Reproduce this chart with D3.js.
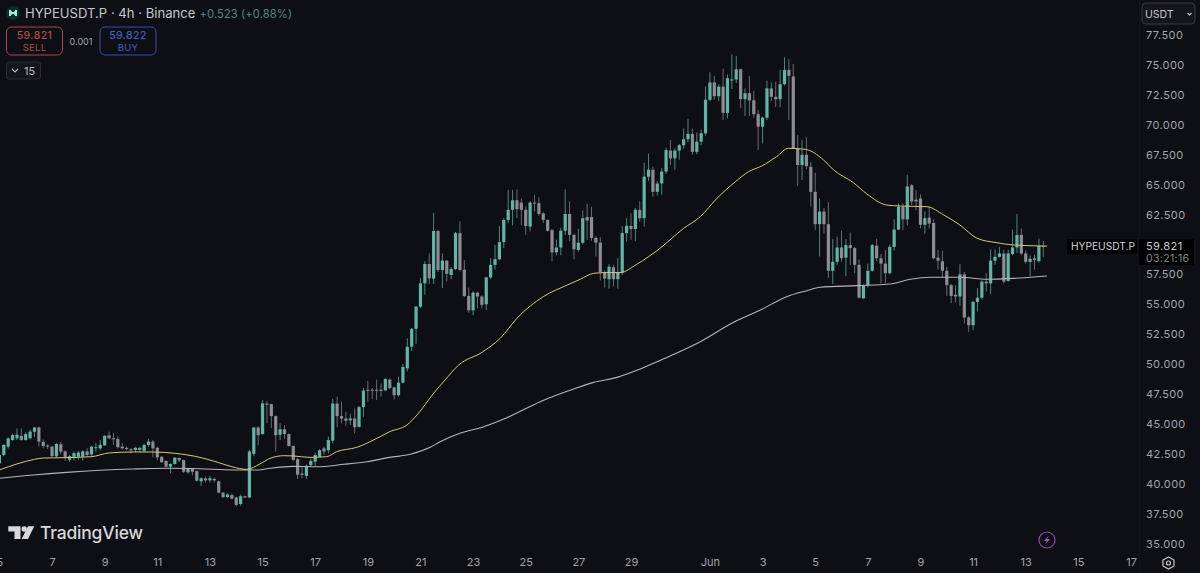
<!DOCTYPE html>
<html>
<head>
<meta charset="utf-8">
<script src="https://cdn.jsdelivr.net/npm/d3@7"></script>
<style>
  html, body { margin: 0; padding: 0; background: #0e0f14; overflow: hidden; }
  svg { display: block; font-family: Inter, "Noto Sans", sans-serif; }
</style>
</head>
<body>
<script>
// 4h candles, first one is 5 May 00:00
var opens = [41.7,42.4,43.1,43.65,43.8,44.0,43.65,43.8,44.35,44.7,
  43.5,43.2,43.1,42.3,43.3,42.7,42.0,42.25,42.26,42.26,
  42.7,42.45,43.0,42.95,43.2,44.05,43.8,43.75,43.1,43.0,
  42.88,42.82,43.0,42.75,43.24,43.52,43.0,42.25,41.9,41.42,
  41.65,42.15,41.98,40.95,41.25,41.05,40.2,40.45,40.28,40.4,
  40.2,39.25,38.88,39.05,38.85,38.3,38.95,38.85,42.5,44.7,
  44.15,46.7,46.65,45.65,44.1,44.55,44.15,43.15,42.05,40.85,
  40.65,41.55,41.85,42.25,42.95,42.8,43.6,46.7,45.65,45.45,
  45.3,45.45,44.75,46.4,47.85,47.85,47.85,47.85,47.8,48.7,
  48.05,47.4,48.45,49.65,51.45,52.95,54.8,56.75,58.37,57.15,
  61.13,57.87,58.65,57.45,57.95,60.95,57.9,55.7,54.5,55.97,
  55.65,55.0,57.25,58.3,58.77,60.2,62.05,62.9,63.7,63.5,
  62.9,61.5,63.5,63.45,62.6,62.05,61.2,59.35,59.75,61.15,
  62.55,60.8,59.55,60.15,62.3,62.3,60.55,60.15,57.7,57.1,
  58.1,57.1,57.65,60.95,61.55,61.3,62.9,62.2,65.67,66.25,
  64.4,65.1,66.1,67.85,67.2,67.85,68.3,68.8,69.25,67.75,
  68.6,69.3,72.1,73.55,72.4,73.2,71.0,73.75,73.8,74.65,
  72.15,72.65,72.05,70.9,69.85,70.6,73.05,72.35,72.15,73.4,
  74.6,74.05,68.05,66.65,67.5,66.5,64.4,61.7,62.75,61.7,
  57.8,58.55,59.75,58.9,59.95,59.7,58.3,55.5,56.6,57.8,
  59.9,58.85,58.4,57.6,59.8,61.25,63.15,62.1,64.95,63.75,
  63.85,61.65,62.25,61.8,58.9,58.6,57.8,56.6,55.8,55.65,
  57.5,53.9,53.25,55.2,55.55,56.9,56.75,58.65,58.97,59.25,
  56.95,59.2,59.75,60.8,59.25,58.55,58.85,58.6,59.88];
var closes = [42.4,43.24,43.79,44.07,44.1,43.65,44.15,44.35,44.7,43.52,
  43.15,43.1,42.3,43.32,42.68,42.2,42.3,42.55,42.6,42.7,
  42.4,43.1,43.05,43.25,44.0,43.8,43.72,43.05,42.97,42.9,
  42.78,43.0,42.82,43.24,43.52,42.96,42.2,41.8,41.42,41.65,
  42.18,41.95,41.0,41.25,41.0,40.25,40.45,40.28,40.45,40.28,
  39.25,38.88,39.1,38.75,38.22,38.95,38.85,42.7,44.7,44.05,
  46.72,46.6,45.65,44.05,44.55,44.15,43.15,42.0,40.75,40.75,
  41.5,41.9,42.4,42.8,42.7,43.65,46.7,45.65,45.45,45.27,
  45.45,44.72,46.4,47.78,47.8,47.8,47.8,47.75,48.75,48.0,
  47.4,48.45,49.75,51.45,52.95,54.8,56.75,58.37,57.17,61.13,
  57.87,58.65,57.55,57.95,60.95,57.87,55.7,54.5,55.97,55.65,
  54.95,57.25,58.3,58.77,60.2,62.05,62.9,63.7,62.95,62.9,
  61.55,63.5,63.45,62.55,62.05,61.15,59.35,59.75,61.15,62.55,
  60.8,59.6,60.15,62.2,62.0,60.55,60.15,57.7,57.15,58.15,
  57.1,57.65,60.95,61.55,61.3,62.9,62.2,65.67,66.25,64.4,
  65.1,66.1,67.9,67.2,67.85,68.3,68.8,69.25,67.75,68.6,
  69.3,72.1,73.55,72.4,73.2,71.0,73.9,73.8,74.65,72.15,
  72.65,72.05,70.9,69.85,70.6,73.05,72.35,72.15,73.4,74.6,
  74.1,68.05,66.65,67.5,66.55,64.4,61.7,62.75,61.7,57.8,
  58.55,59.75,58.85,59.95,59.7,58.3,55.55,56.6,57.8,59.95,
  58.85,58.4,57.6,59.8,61.25,63.15,62.1,64.85,63.6,63.6,
  61.65,62.2,61.75,58.85,58.65,57.8,56.6,55.7,55.65,57.5,
  53.9,53.25,55.2,55.55,56.9,56.75,58.65,58.97,59.25,56.9,
  59.25,59.75,60.8,59.25,58.55,58.8,58.7,59.87,59.82];
var highs = [42.5,43.3,43.85,44.2,44.63,44.63,44.3,44.5,44.75,44.77,
  43.7,43.3,43.15,43.4,43.5,42.8,42.4,42.7,42.75,42.8,
  42.95,43.15,43.4,43.65,44.05,44.35,44.25,43.95,43.4,43.1,
  42.97,43.1,43.1,43.35,43.75,43.65,43.1,42.3,41.95,41.7,
  42.2,42.2,42.0,41.3,41.3,41.1,40.55,40.6,40.65,40.5,
  40.25,39.3,39.2,39.15,38.9,39.1,39.0,42.85,44.75,44.8,
  47.0,46.9,46.7,45.7,45.05,44.9,44.2,43.2,42.15,41.4,
  41.6,42.1,42.6,42.9,43.1,43.95,47.1,47.28,46.85,46.0,
  45.85,46.3,46.5,48.0,48.6,48.0,48.7,48.4,48.85,48.8,
  48.1,48.95,50.0,52.15,53.0,54.85,57.2,58.6,59.25,62.65,
  61.2,59.25,58.7,58.1,61.05,61.95,58.7,56.4,56.1,56.05,
  55.75,57.3,58.85,59.95,61.55,62.2,64.56,64.55,64.6,63.85,
  63.2,63.6,64.15,63.95,62.7,62.1,61.3,60.4,61.4,64.6,
  63.6,60.9,61.3,62.85,63.4,63.15,60.7,60.6,57.85,58.35,
  58.3,58.85,61.55,62.2,62.6,63.05,63.6,66.85,67.6,66.5,
  65.3,66.4,68.1,68.75,68.05,68.4,69.7,70.5,69.7,69.35,
  69.6,73.2,74.4,74.1,73.4,74.7,74.2,75.9,75.75,74.7,
  73.05,74.1,72.85,71.25,70.7,73.7,73.55,73.6,74.6,75.65,
  75.5,75.1,69.15,68.75,68.95,66.9,66.0,63.85,63.05,63.55,
  60.45,60.65,61.15,60.45,61.0,59.8,58.75,56.65,58.4,60.05,
  60.45,59.2,59.55,60.0,62.1,63.45,63.45,65.8,65.05,64.55,
  64.2,62.75,63.15,62.1,59.55,59.5,58.15,56.7,56.6,58.35,
  57.7,54.0,55.3,56.35,57.0,57.6,59.6,59.6,59.8,59.55,
  59.55,61.25,62.55,61.35,59.5,59.1,59.15,60.5,60.3];
var lows = [41.6,42.3,42.95,43.6,43.65,43.6,43.6,43.7,43.9,43.1,
  42.95,42.9,42.25,42.2,42.5,41.9,41.85,41.95,42.0,41.95,
  42.25,42.2,42.65,42.8,43.2,43.75,43.25,42.95,42.85,42.8,
  42.55,42.65,42.65,42.65,43.1,42.2,41.98,41.75,41.38,40.87,
  41.6,41.8,40.9,40.85,40.7,40.2,39.82,40.1,40.1,40.1,
  39.2,38.8,38.8,38.7,38.1,38.15,38.8,38.8,42.3,43.2,
  44.1,45.05,44.65,42.7,43.65,43.75,43.1,41.9,40.4,40.45,
  40.4,41.4,41.45,42.2,42.4,42.55,43.4,44.75,45.05,44.85,
  44.9,44.2,44.7,45.6,46.85,47.1,47.0,47.3,47.75,47.9,
  47.05,47.3,48.4,49.4,51.1,51.7,54.7,55.8,56.7,56.7,
  57.7,56.35,56.9,57.1,57.85,57.75,55.6,54.3,54.1,54.65,
  54.65,54.5,57.1,57.9,58.7,59.7,61.8,61.6,62.2,61.6,
  60.8,61.1,62.75,62.4,61.8,61.1,58.6,59.1,59.1,60.8,
  60.3,58.75,59.4,60.0,60.4,60.3,59.0,57.0,56.4,56.3,
  56.5,56.3,57.45,60.25,60.4,60.3,61.9,61.5,65.3,64.0,
  64.1,64.15,65.9,66.65,66.25,67.1,68.0,68.55,67.5,67.55,
  68.3,69.1,72.0,72.1,72.0,70.4,70.55,73.0,73.5,71.4,
  70.75,70.75,70.6,67.9,68.45,70.4,72.0,71.5,71.5,73.3,
  70.4,68.0,64.9,65.4,66.3,63.2,61.2,59.0,60.9,57.2,
  56.7,58.3,58.55,57.35,58.3,57.6,55.5,55.45,56.4,57.75,
  58.6,56.75,56.8,57.5,59.5,61.2,61.2,61.6,63.3,62.85,
  61.35,60.9,61.35,58.75,57.9,57.2,55.7,55.1,55.15,54.85,
  53.4,52.7,52.85,54.4,55.4,56.05,55.85,58.3,58.9,56.75,
  56.9,59.1,59.3,59.1,58.4,57.35,57.9,58.5,58.95];

var yellowAt = [0,4,8,10,15,21,25,30.5,35,40,46,50,53,56.4,59.4,61.7,64.8,67,70.8,74.6,76.9,81.5,85.3,89,92.9,95.2,99,101.6,104.7,110,114.2,118,124,129.4,132.4,135.5,138.5,141.5,145.3,150.6,156,159.8,163.6,167.8,170.8,173.8,177.2,179.9,183.7,187.9,190.2,194.7,197.8,202.3,205.4,211.5,215.3,219,222.9,227.4,231.2,238.8];
var yellowMa = [41.15,41.65,42.04,42.15,42.18,42.26,42.57,42.65,42.65,42.54,42.18,41.76,41.42,41.2,41.65,42.12,42.34,42.32,42.2,42.26,42.68,43.04,43.65,44.35,44.91,45.74,47.56,48.67,49.92,50.98,52.16,53.83,55.64,56.6,57.09,57.59,57.65,57.65,58.34,59.68,61.35,62.33,63.86,65.25,66.09,66.56,67.35,68.04,67.96,67.07,66.23,65.17,64.22,63.3,63.22,63.16,62.47,61.63,60.52,60.15,59.96,59.87];
var whiteAt = [0,7.7,15.3,22.9,30.5,38.1,45.7,53.3,59,61.7,67,72.4,78.5,83.8,89,93.7,98.2,100.5,105,110.4,115.7,123.3,130.9,135.5,140.8,146.1,152.2,159.8,167.4,173.5,179.5,184.1,187.1,195.5,203.1,207.7,212.2,219,225.2,231.2,238.8];
var whiteMa = [40.45,40.73,40.95,41.12,41.23,41.29,41.25,41.15,41.15,41.29,41.45,41.42,41.62,41.84,42.2,42.46,43.04,43.51,44.21,44.77,45.52,46.86,47.92,48.47,48.89,49.59,50.56,51.87,53.49,54.52,55.64,56.14,56.42,56.56,56.7,57.09,57.26,57.26,57.1,57.17,57.37];

// 60.000 sits under the last price label in the picture
var priceTicks = [35,37.5,40,42.5,45,47.5,50,52.5,55,57.5,62.5,65,67.5,70,72.5,75,77.5];
var dayTicks = ["2025-05-05","2025-05-07","2025-05-09","2025-05-11","2025-05-13","2025-05-15","2025-05-17","2025-05-19","2025-05-21","2025-05-23","2025-05-25","2025-05-27","2025-05-29","2025-06-01","2025-06-03","2025-06-05","2025-06-07","2025-06-09","2025-06-11","2025-06-13","2025-06-15","2025-06-17"];

var width = 1200, height = 573;
var t0 = Date.UTC(2025, 4, 5);
function when(i) { return new Date(t0 + i * 4 * 3600 * 1000); }

var x = d3.scaleUtc()
    .domain([new Date("2025-05-05"), new Date("2025-06-17")])
    .range([-0.6, 1131]);
var y = d3.scaleLinear()
    .domain([35, 77.5])
    .range([543.5, 35.2]);

var svg = d3.select("body").append("svg")
    .attr("width", width)
    .attr("height", height);

svg.append("rect").attr("width", width).attr("height", height).attr("fill", "#0e0f14");
svg.append("line").attr("x1", 1139.5).attr("x2", 1139.5).attr("y1", 0).attr("y2", height).attr("stroke", "#14151a");

// the reference is a soft screenshot, take the edge off the marks
svg.append("defs").append("filter").attr("id", "soft")
    .attr("x", "-5%").attr("y", "-5%").attr("width", "110%").attr("height", "110%")
  .append("feGaussianBlur").attr("stdDeviation", 0.35);

// candles
var green = "#5fb6a7", gray = "#8d8b95";
var candles = d3.range(opens.length).map(function(i) {
  return {t: when(i), o: opens[i], c: closes[i], h: highs[i], l: lows[i]};
});
function candleColor(d) { return d.c >= d.o ? green : gray; }

var marks = svg.append("g").attr("filter", "url(#soft)");

marks.append("g").selectAll("line")
    .data(candles)
  .enter().append("line")
    .attr("x1", function(d) { return x(d.t); })
    .attr("x2", function(d) { return x(d.t); })
    .attr("y1", function(d) { return y(d.h); })
    .attr("y2", function(d) { return y(d.l); })
    .attr("stroke", candleColor)
    .attr("stroke-opacity", 0.72)
    .attr("stroke-width", 1);

marks.append("g").selectAll("rect")
    .data(candles)
  .enter().append("rect")
    .attr("x", function(d) { return x(d.t) - 1.6; })
    .attr("width", 3.2)
    .attr("y", function(d) { return y(Math.max(d.o, d.c)); })
    .attr("height", function(d) { return Math.max(1, Math.abs(y(d.o) - y(d.c))); })
    .attr("fill", candleColor);

// moving averages
var line = d3.line()
    .x(function(d) { return x(when(d[0])); })
    .y(function(d) { return y(d[1]); })
    .curve(d3.curveMonotoneX);

marks.append("path")
    .attr("d", line(d3.zip(whiteAt, whiteMa)))
    .attr("fill", "none")
    .attr("stroke", "#b4b4b9")
    .attr("stroke-width", 1.1);
marks.append("path")
    .attr("d", line(d3.zip(yellowAt, yellowMa)))
    .attr("fill", "none")
    .attr("stroke", "#d2c977")
    .attr("stroke-width", 1);

// axes
var yAxis = svg.append("g")
    .attr("transform", "translate(1146,0)")
    .call(d3.axisRight(y).tickValues(priceTicks).tickSize(0).tickPadding(0)
      .tickFormat(function(d) { return d.toFixed(3); }));
yAxis.select(".domain").remove();
yAxis.selectAll("text")
    .attr("fill", "#a3a5ac")
    .attr("font-family", "Inter, sans-serif")
    .attr("font-size", "11px")
    .attr("letter-spacing", "0.4");

var xAxis = svg.append("g")
    .attr("transform", "translate(0,555)")
    .call(d3.axisBottom(x).tickValues(dayTicks.map(function(d) { return new Date(d); }))
      .tickSize(0).tickPadding(3)
      .tickFormat(function(d) { return d.getUTCMonth() == 5 && d.getUTCDate() == 1 ? "Jun" : d.getUTCDate(); }));
xAxis.select(".domain").remove();
xAxis.selectAll("text")
    .attr("fill", "#a3a5ac")
    .attr("font-family", "Inter, sans-serif")
    .attr("font-size", "11px");

// header
svg.append("circle").attr("cx", 13).attr("cy", 13).attr("r", 7).attr("fill", "#0d2e2b");
svg.append("path").attr("d", "M9 10 L10.8 10 L12 12 L14 12 L15.2 10 L17 10 L17 16 L15.2 16 L14 14 L12 14 L10.8 16 L9 16 Z").attr("fill", "#9ff0dd");
svg.append("text").attr("x", 25).attr("y", 18).attr("font-size", "13.1px").attr("fill", "#c6c8ce").text("HYPEUSDT.P · 4h · Binance");
svg.append("text").attr("x", 199.5).attr("y", 18).attr("font-size", "11.2px").attr("letter-spacing", "0.1").attr("fill", "#4d8c80").text("+0.523 (+0.88%)");

function tradeBox(bx, col, txt, a, b) {
  svg.append("rect").attr("x", bx).attr("y", 27).attr("width", 56).attr("height", 28).attr("rx", 5)
      .attr("fill", "#0e0f14").attr("stroke", col).attr("stroke-width", 1);
  svg.append("text").attr("x", bx + 28).attr("y", 39).attr("text-anchor", "middle").attr("font-size", "10.5px")
      .attr("font-weight", 500).attr("letter-spacing", "0.4").attr("fill", txt).text(a);
  svg.append("text").attr("x", bx + 28).attr("y", 51).attr("text-anchor", "middle").attr("font-size", "9.5px")
      .attr("letter-spacing", "0.3").attr("fill", txt).text(b);
}
tradeBox(6.5, "#a94a4c", "#b04c4e", "59.821", "SELL");
tradeBox(100, "#3350ab", "#3f5fc0", "59.822", "BUY");
svg.append("text").attr("x", 81).attr("y", 45).attr("text-anchor", "middle").attr("font-size", "9px").attr("fill", "#a3a5ac").text("0.001");

svg.append("rect").attr("x", 6.5).attr("y", 62).attr("width", 34).attr("height", 17).attr("rx", 2.5)
    .attr("fill", "#15161b").attr("stroke", "#2c2e34");
svg.append("path").attr("d", "M12 69 L15 72 L18 69").attr("fill", "none").attr("stroke", "#b9bbc1").attr("stroke-width", 1.1);
svg.append("text").attr("x", 24).attr("y", 75).attr("font-size", "11px").attr("fill", "#b9bbc1").text("15");

// currency box
svg.append("rect").attr("x", 1142).attr("y", 3).attr("width", 53).attr("height", 21).attr("rx", 4)
    .attr("fill", "#15161b").attr("stroke", "#3a3c42");
svg.append("text").attr("x", 1145).attr("y", 18).attr("font-size", "10.5px").attr("fill", "#c6c8ce").text("USDT");
svg.append("path").attr("d", "M1187.5 13 L1189.5 15 L1191.5 13").attr("fill", "none").attr("stroke", "#c6c8ce").attr("stroke-width", 1.1);

// last price labels
svg.append("rect").attr("x", 1067).attr("y", 239).attr("width", 70).attr("height", 15).attr("fill", "#000");
svg.append("text").attr("x", 1071).attr("y", 250).attr("font-size", "10.2px").attr("fill", "#d2d4da").text("HYPEUSDT.P");
svg.append("rect").attr("x", 1139).attr("y", 239).attr("width", 55).attr("height", 26).attr("fill", "#000");
svg.append("text").attr("x", 1146).attr("y", 250).attr("font-size", "11px").attr("letter-spacing", "0.4").attr("fill", "#c6c8ce").text("59.821");
svg.append("text").attr("x", 1146).attr("y", 262).attr("font-size", "10.6px").attr("letter-spacing", "0.3").attr("fill", "#85878e").text("03:21:16");

// TradingView logo
svg.append("path").attr("d", "M8.3 526.3 H20.5 V539 H14.5 V531.5 H8.3 Z").attr("fill", "#d8d8da");
svg.append("circle").attr("cx", 24.2).attr("cy", 529).attr("r", 2.7).attr("fill", "#d8d8da");
svg.append("path").attr("d", "M28 526.3 H34.3 L28 539 H21.6 Z").attr("fill", "#d8d8da");
svg.append("text").attr("x", 40).attr("y", 538.5).attr("font-size", "17.5px").attr("font-weight", 500).attr("letter-spacing", "-0.2").attr("fill", "#d8d8da").text("TradingView");

// lightning + settings
svg.append("circle").attr("cx", 1047).attr("cy", 540).attr("r", 8).attr("fill", "none").attr("stroke", "#8a4aa8").attr("stroke-width", 1.2);
svg.append("path").attr("d", "M1048.8 535.5 L1044 541 L1046.8 541 L1045.2 544.5 L1050 539 L1047.2 539 Z").attr("fill", "#a552cc");
svg.append("path").attr("d", "M1168.5 557 L1174 560 L1174 566 L1168.5 569 L1163 566 L1163 560 Z").attr("fill", "none").attr("stroke", "#c6c8ce").attr("stroke-width", 1.2);
svg.append("circle").attr("cx", 1168.5).attr("cy", 563).attr("r", 2).attr("fill", "none").attr("stroke", "#c6c8ce").attr("stroke-width", 1.2);
</script>
</body>
</html>
